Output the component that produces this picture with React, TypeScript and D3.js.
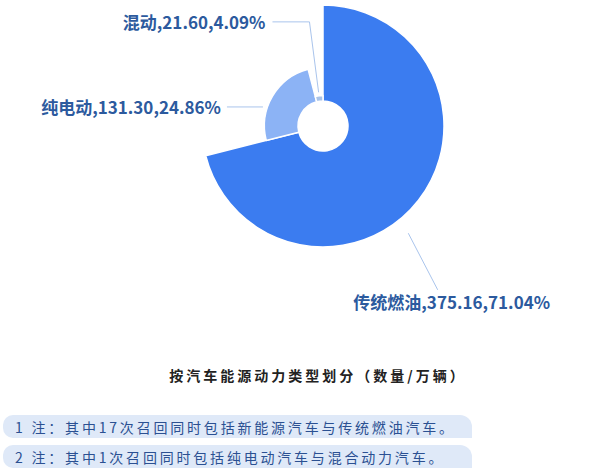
import React, { useEffect, useRef } from "react";
import * as d3 from "d3";

const categories = ["传统燃油", "纯电动", "混动"];
const volumes = [375.16, 131.3, 21.6];
const shares = ["71.04%", "24.86%", "4.09%"];
const sliceColors = ["#3b7cf0", "#8cb3f5", "#a9c3e8"];
const chartTitle = "按汽车能源动力类型划分（数量/万辆）";
const notes = [
  "1 注：其中17次召回同时包括新能源汽车与传统燃油汽车。",
  "2 注：其中1次召回同时包括纯电动汽车与混合动力汽车。",
];

// label placement, polar (deg clockwise from 12 o'clock, radius) from chart centre
const labelLayout = [
  { p1: [141.5, 137], p2: [145, 200], hLen: 0, dx: 14, dy: 12, anchor: "middle" },
  { p1: [287.6, 63], p2: [287.6, 63], hLen: -36, dx: -6, dy: 0, anchor: "end" },
  { p1: [352.6, 34], p2: [352.6, 105], hLen: -37, dx: -7, dy: 0, anchor: "end" },
];

export default function App() {
  const ref = useRef<SVGSVGElement | null>(null);

  useEffect(() => {
    const width = 589;
    const height = 474;
    const cx = 323;
    const cy = 126;
    const inner = 25;
    const outerMax = 121;

    const svg = d3.select(ref.current);
    svg.selectAll("*").remove();
    svg.attr("viewBox", `0 0 ${width} ${height}`);

    const g = svg.append("g").attr("transform", `translate(${cx},${cy})`);

    const data = categories.map((c, i) => ({ name: c, value: volumes[i], share: shares[i], color: sliceColors[i] }));
    const pie = d3.pie<any>().sort(null).value(d => d.value);
    const arcs = pie(data);

    const r = d3.scaleLinear().domain([0, d3.max(volumes) as number]).range([inner, outerMax]);

    g.selectAll("path.slice")
      .data(arcs)
      .enter()
      .append("path")
      .attr("class", "slice")
      .attr("d", d => d3.arc<any>().innerRadius(inner).outerRadius(r(d.data.value))(d) as string)
      .attr("fill", d => d.data.color)
      .attr("stroke", "#fff")
      .attr("stroke-width", 1.5)
      .attr("stroke-linejoin", "round");

    const polar = (p: number[]) => {
      const a = (p[0] * Math.PI) / 180;
      return [Math.sin(a) * p[1], -Math.cos(a) * p[1]];
    };

    arcs.forEach((d, i) => {
      const lay = labelLayout[i];
      const a = polar(lay.p1);
      const b = polar(lay.p2);
      const c = [b[0] + lay.hLen, b[1]];
      g.append("path")
        .attr("d", d3.line()([a as [number, number], b as [number, number], c as [number, number]]) as string)
        .attr("fill", "none")
        .attr("stroke", "#a9c4ec")
        .attr("stroke-width", 1);
      g.append("text")
        .attr("x", c[0] + lay.dx)
        .attr("y", c[1] + lay.dy)
        .attr("text-anchor", lay.anchor)
        .attr("dominant-baseline", "central")
        .attr("font-family", "'Noto Sans CJK SC', 'Noto Sans', sans-serif")
        .attr("font-weight", "bold")
        .attr("font-size", 17)
        .attr("fill", "#2c5a9e")
        .text(`${d.data.name},${d.data.value.toFixed(2)},${d.data.share}`);
    });

    svg.append("text")
      .attr("x", 318)
      .attr("y", 375)
      .attr("text-anchor", "middle")
      .attr("dominant-baseline", "central")
      .attr("font-family", "'Noto Sans CJK SC', sans-serif")
      .attr("font-weight", "bold")
      .attr("font-size", 14)
      .attr("letter-spacing", 3)
      .attr("fill", "#222")
      .text(chartTitle);

    const rowY = d3.scaleLinear().domain([0, 1]).range([415, 445]);
    const pillW = 469;
    const pillH = 23;
    notes.forEach((t, i) => {
      const y0 = rowY(i);
      const x0 = 3;
      const rl = 10;
      const rr = 12;
      const p = d3.path();
      p.moveTo(x0 + rl, y0);
      p.lineTo(x0 + pillW - rr, y0);
      p.arcTo(x0 + pillW, y0, x0 + pillW, y0 + rr, rr);
      p.lineTo(x0 + pillW, y0 + pillH);
      p.lineTo(x0 + rl, y0 + pillH);
      p.arcTo(x0, y0 + pillH, x0, y0 + pillH - rl, rl);
      p.lineTo(x0, y0 + rl);
      p.arcTo(x0, y0, x0 + rl, y0, rl);
      p.closePath();
      svg.append("path").attr("d", p.toString()).attr("fill", "#dfe9f8");
      svg.append("text")
        .attr("x", 15)
        .attr("y", y0 + pillH / 2 + 0.5)
        .attr("dominant-baseline", "central")
        .attr("font-family", "'Noto Sans CJK SC', sans-serif")
        .attr("font-size", 14)
        .attr("letter-spacing", 2.8)
        .attr("fill", "#2b5092")
        .text(t);
    });
  }, []);

  return (
    <div style={{ position: "absolute", left: 0, top: 0, width: 589, height: 474, background: "#fff" }}>
      <svg ref={ref} width={589} height={474} style={{ display: "block" }} />
    </div>
  );
}
